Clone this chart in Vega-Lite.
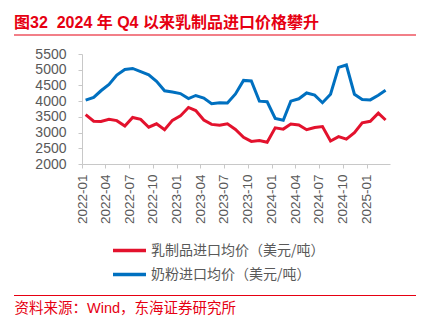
{
  "$schema": "https://vega.github.io/schema/vega-lite/v6.json",
  "width": 308,
  "height": 110,
  "autosize": {"type": "none"},
  "padding": {"left": 82, "top": 54, "right": 43, "bottom": 157},
  "background": "white",
  "config": {"font": "Liberation Sans, Noto Sans CJK SC", "view": {"stroke": null}},
  "title": {
    "text": "图32\u00a0 2024 年 Q4 以来乳制品进口价格攀升",
    "anchor": "start",
    "frame": "group",
    "dx": -68,
    "offset": -5,
    "baseline": "middle",
    "color": "#e60012",
    "fontSize": 16,
    "fontWeight": "bold",
    "font": "Liberation Sans, Noto Sans CJK SC"
  },
  "layer": [
    {
      "data": {
        "values": [
          {"date": "2022-01-15", "乳制品进口均价（美元/吨）": 3570, "奶粉进口均价（美元/吨）": 4030},
          {"date": "2022-02-15", "乳制品进口均价（美元/吨）": 3360, "奶粉进口均价（美元/吨）": 4120},
          {"date": "2022-03-15", "乳制品进口均价（美元/吨）": 3350, "奶粉进口均价（美元/吨）": 4330},
          {"date": "2022-04-15", "乳制品进口均价（美元/吨）": 3420, "奶粉进口均价（美元/吨）": 4530},
          {"date": "2022-05-15", "乳制品进口均价（美元/吨）": 3380, "奶粉进口均价（美元/吨）": 4830},
          {"date": "2022-06-15", "乳制品进口均价（美元/吨）": 3210, "奶粉进口均价（美元/吨）": 5010},
          {"date": "2022-07-15", "乳制品进口均价（美元/吨）": 3480, "奶粉进口均价（美元/吨）": 5040},
          {"date": "2022-08-15", "乳制品进口均价（美元/吨）": 3420, "奶粉进口均价（美元/吨）": 4940},
          {"date": "2022-09-15", "乳制品进口均价（美元/吨）": 3170, "奶粉进口均价（美元/吨）": 4840},
          {"date": "2022-10-15", "乳制品进口均价（美元/吨）": 3280, "奶粉进口均价（美元/吨）": 4630},
          {"date": "2022-11-15", "乳制品进口均价（美元/吨）": 3090, "奶粉进口均价（美元/吨）": 4330},
          {"date": "2022-12-15", "乳制品进口均价（美元/吨）": 3390, "奶粉进口均价（美元/吨）": 4290},
          {"date": "2023-01-15", "乳制品进口均价（美元/吨）": 3530, "奶粉进口均价（美元/吨）": 4240},
          {"date": "2023-02-15", "乳制品进口均价（美元/吨）": 3800, "奶粉进口均价（美元/吨）": 4080},
          {"date": "2023-03-15", "乳制品进口均价（美元/吨）": 3700, "奶粉进口均价（美元/吨）": 4180},
          {"date": "2023-04-15", "乳制品进口均价（美元/吨）": 3400, "奶粉进口均价（美元/吨）": 4100},
          {"date": "2023-05-15", "乳制品进口均价（美元/吨）": 3260, "奶粉进口均价（美元/吨）": 3920},
          {"date": "2023-06-15", "乳制品进口均价（美元/吨）": 3230, "奶粉进口均价（美元/吨）": 3950},
          {"date": "2023-07-15", "乳制品进口均价（美元/吨）": 3280, "奶粉进口均价（美元/吨）": 3940},
          {"date": "2023-08-15", "乳制品进口均价（美元/吨）": 3100, "奶粉进口均价（美元/吨）": 4230},
          {"date": "2023-09-15", "乳制品进口均价（美元/吨）": 2850, "奶粉进口均价（美元/吨）": 4660},
          {"date": "2023-10-15", "乳制品进口均价（美元/吨）": 2720, "奶粉进口均价（美元/吨）": 4640},
          {"date": "2023-11-15", "乳制品进口均价（美元/吨）": 2750, "奶粉进口均价（美元/吨）": 4000},
          {"date": "2023-12-15", "乳制品进口均价（美元/吨）": 2690, "奶粉进口均价（美元/吨）": 3980},
          {"date": "2024-01-15", "乳制品进口均价（美元/吨）": 3150, "奶粉进口均价（美元/吨）": 3450},
          {"date": "2024-02-15", "乳制品进口均价（美元/吨）": 3110, "奶粉进口均价（美元/吨）": 3390},
          {"date": "2024-03-15", "乳制品进口均价（美元/吨）": 3270, "奶粉进口均价（美元/吨）": 4000},
          {"date": "2024-04-15", "乳制品进口均价（美元/吨）": 3240, "奶粉进口均价（美元/吨）": 4075},
          {"date": "2024-05-15", "乳制品进口均价（美元/吨）": 3090, "奶粉进口均价（美元/吨）": 4260},
          {"date": "2024-06-15", "乳制品进口均价（美元/吨）": 3160, "奶粉进口均价（美元/吨）": 4190},
          {"date": "2024-07-15", "乳制品进口均价（美元/吨）": 3190, "奶粉进口均价（美元/吨）": 3950},
          {"date": "2024-08-15", "乳制品进口均价（美元/吨）": 2730, "奶粉进口均价（美元/吨）": 4220},
          {"date": "2024-09-15", "乳制品进口均价（美元/吨）": 2870, "奶粉进口均价（美元/吨）": 5075},
          {"date": "2024-10-15", "乳制品进口均价（美元/吨）": 2790, "奶粉进口均价（美元/吨）": 5150},
          {"date": "2024-11-15", "乳制品进口均价（美元/吨）": 3000, "奶粉进口均价（美元/吨）": 4220},
          {"date": "2024-12-15", "乳制品进口均价（美元/吨）": 3310, "奶粉进口均价（美元/吨）": 4050},
          {"date": "2025-01-15", "乳制品进口均价（美元/吨）": 3360, "奶粉进口均价（美元/吨）": 4040},
          {"date": "2025-02-15", "乳制品进口均价（美元/吨）": 3620, "奶粉进口均价（美元/吨）": 4190},
          {"date": "2025-03-15", "乳制品进口均价（美元/吨）": 3400, "奶粉进口均价（美元/吨）": 4345}
        ]
      },
      "transform": [
        {"fold": ["乳制品进口均价（美元/吨）", "奶粉进口均价（美元/吨）"], "as": ["s", "v"]}
      ],
      "mark": {"type": "line", "strokeWidth": 3},
      "encoding": {
        "x": {
          "field": "date",
          "type": "temporal",
          "title": "资料来源：Wind，东海证券研究所",
          "scale": {
            "type": "utc",
            "domain": [
              {"year": 2022, "month": 1, "date": 1, "utc": true},
              {"year": 2025, "month": 4, "date": 1, "utc": true}
            ]
          },
          "axis": {
            "values": [
              {"year": 2022, "month": 1, "date": 1, "utc": true},
              {"year": 2022, "month": 4, "date": 1, "utc": true},
              {"year": 2022, "month": 7, "date": 1, "utc": true},
              {"year": 2022, "month": 10, "date": 1, "utc": true},
              {"year": 2023, "month": 1, "date": 1, "utc": true},
              {"year": 2023, "month": 4, "date": 1, "utc": true},
              {"year": 2023, "month": 7, "date": 1, "utc": true},
              {"year": 2023, "month": 10, "date": 1, "utc": true},
              {"year": 2024, "month": 1, "date": 1, "utc": true},
              {"year": 2024, "month": 4, "date": 1, "utc": true},
              {"year": 2024, "month": 7, "date": 1, "utc": true},
              {"year": 2024, "month": 10, "date": 1, "utc": true},
              {"year": 2025, "month": 1, "date": 1, "utc": true}
            ],
            "format": "%Y-%m",
            "labelAngle": -90,
            "labelFontSize": 13.5,
            "labelColor": "#595959",
            "labelFlush": false,
            "labelOverlap": false,
            "labelPadding": 6,
            "tickSize": 4,
            "tickColor": "#c8c8c8",
            "domainColor": "#c8c8c8",
            "grid": false,
            "titleX": -68,
            "titleY": 144,
            "titleAlign": "left",
            "titleBaseline": "middle",
            "titleColor": "#e60012",
            "titleFont": "Liberation Sans, Noto Sans CJK SC",
            "titleFontSize": 14.5,
            "titleFontWeight": "normal"
          }
        },
        "y": {
          "field": "v",
          "type": "quantitative",
          "scale": {"domain": [2000, 5500], "nice": false, "zero": false},
          "axis": {
            "values": [2000, 2500, 3000, 3500, 4000, 4500, 5000, 5500],
            "format": "d",
            "title": null,
            "labelFontSize": 14,
            "labelColor": "#595959",
            "labelPadding": 12,
            "tickSize": 4,
            "tickColor": "#c8c8c8",
            "domainColor": "#c8c8c8",
            "grid": false
          }
        },
        "color": {
          "field": "s",
          "type": "nominal",
          "scale": {
            "domain": ["乳制品进口均价（美元/吨）", "奶粉进口均价（美元/吨）"],
            "range": ["#e3122d", "#0070c0"]
          },
          "legend": {
            "title": null,
            "orient": "none",
            "legendX": 40,
            "legendY": 189,
            "direction": "vertical",
            "symbolType": "M-3,0H3",
            "symbolSize": 121,
            "symbolStrokeWidth": 3.5,
            "labelFont": "Noto Sans CJK SC",
            "labelFontSize": 14,
            "labelColor": "#595959",
            "labelOffset": 14,
            "labelLimit": 400,
            "rowPadding": 9,
            "padding": 0
          }
        }
      }
    },
    {
      "data": {"values": [{"edge": "top"}, {"edge": "bottom"}]},
      "mark": {"type": "rule", "color": "#e60012", "strokeWidth": 1.2},
      "encoding": {
        "x": {"datum": 0, "type": "quantitative", "scale": {"domain": [0, 1], "range": [-68, 334]}, "axis": null},
        "x2": {"datum": 1},
        "y": {
          "field": "edge",
          "type": "nominal",
          "scale": {"type": "point", "domain": ["top", "bottom"], "range": [-19, 241.5], "padding": 0},
          "axis": null
        }
      }
    }
  ],
  "resolve": {"scale": {"x": "independent", "y": "independent"}}
}
